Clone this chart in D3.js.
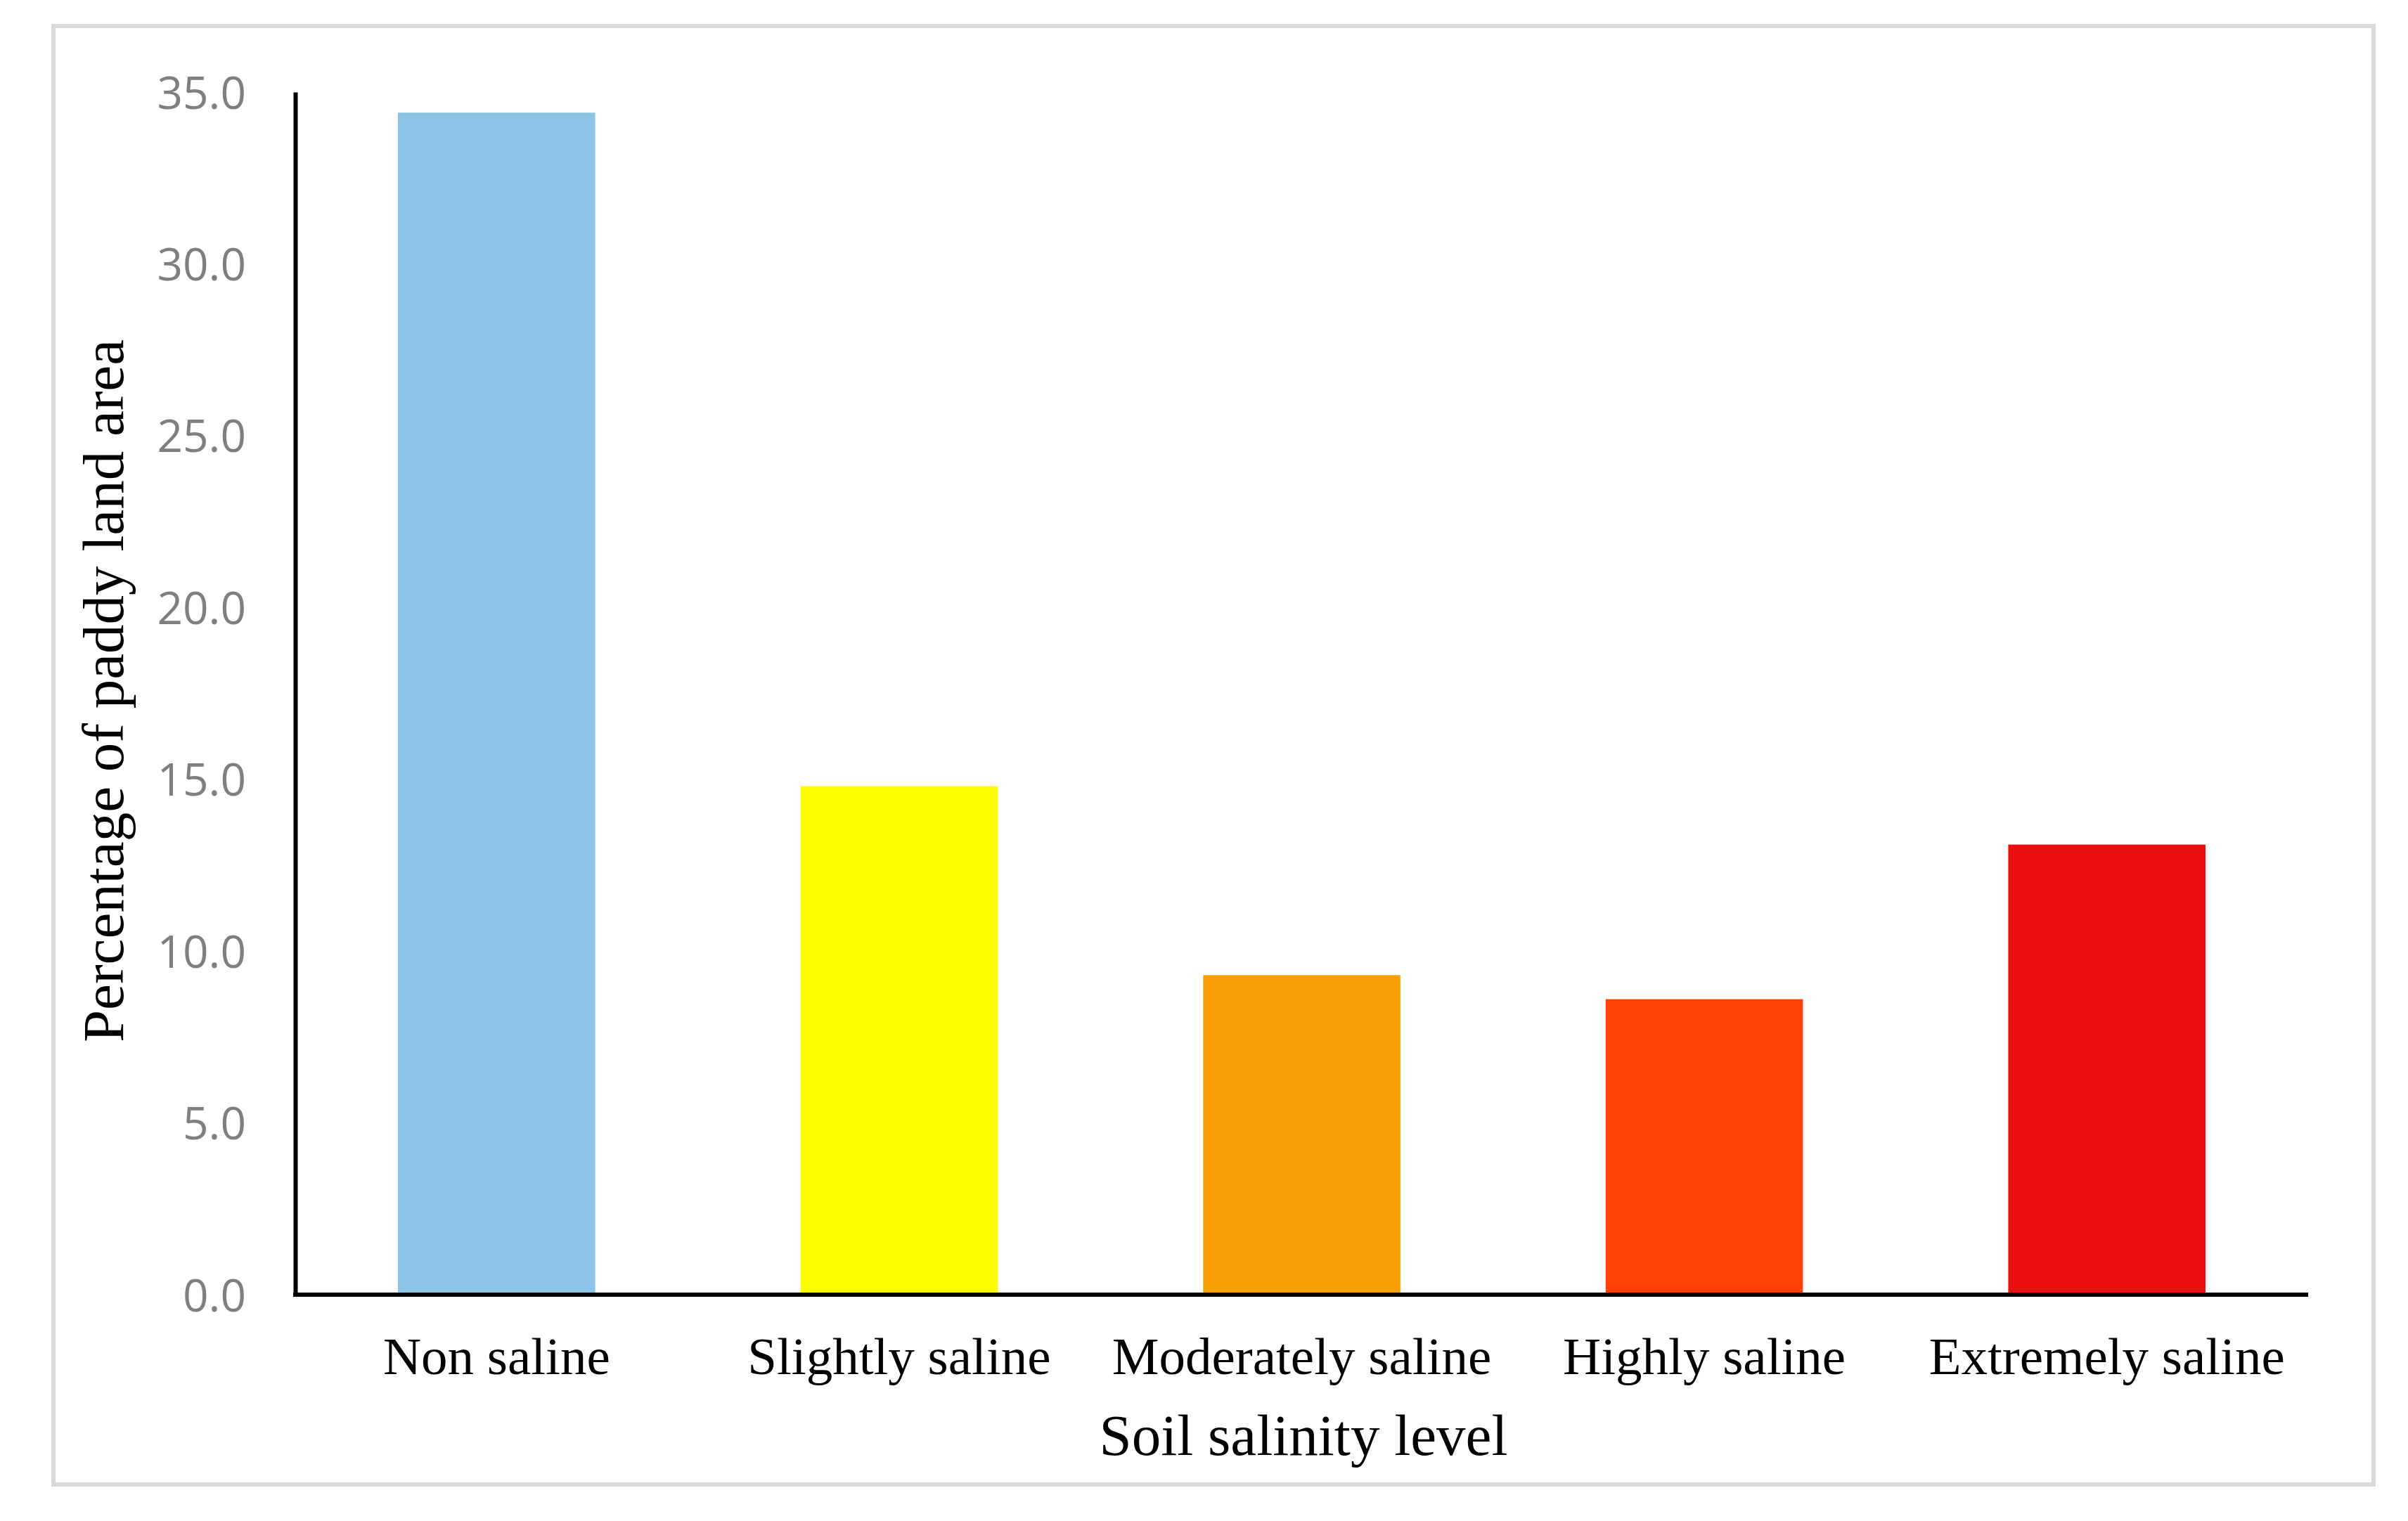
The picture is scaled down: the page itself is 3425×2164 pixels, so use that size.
<!DOCTYPE html>
<html>
<head>
<meta charset="utf-8">
<script src="https://cdn.jsdelivr.net/npm/d3@7"></script>
<style>
html,body{margin:0;padding:0;background:#fff;}
svg{display:block;}
</style>
</head>
<body>
<svg id="chart" width="3425" height="2164"></svg>
<script>
const categories = ["Non saline", "Slightly saline", "Moderately saline", "Highly saline", "Extremely saline"];
const values = [34.4, 14.8, 9.3, 8.6, 13.1];
const barColors = ["#8DC3E7", "#FFFF00", "#FAA005", "#FF4103", "#EB0E0E"];
const yTicks = [0, 5, 10, 15, 20, 25, 30, 35];
const xTitle = "Soil salinity level";
const yTitle = "Percentage of paddy land area";

const svg = d3.select("#chart");
const W = 3425, H = 2164;
const m = {left: 420, right: 3283, top: 131, bottom: 1842};

svg.append("rect").attr("x", 0).attr("y", 0).attr("width", W).attr("height", H).attr("fill", "#fff");
// outer frame
svg.append("rect").attr("x", 76).attr("y", 37).attr("width", 3376 - 76).attr("height", 2112 - 37)
  .attr("fill", "none").attr("stroke", "#d9d9d9").attr("stroke-width", 6);

const x = d3.scaleBand().domain(categories).range([m.left, m.right]).paddingInner(0.51).paddingOuter(0.255);
const y = d3.scaleLinear().domain([0, 35]).range([m.bottom, m.top]);

// bars
svg.append("g").selectAll("rect").data(categories).join("rect")
  .attr("x", d => x(d))
  .attr("width", x.bandwidth())
  .attr("y", (d, i) => y(values[i]))
  .attr("height", (d, i) => y(0) - y(values[i]))
  .attr("fill", (d, i) => barColors[i]);

// y axis
const yAxis = d3.axisLeft(y).tickValues(yTicks).tickFormat(d3.format(".1f")).tickSize(0).tickPadding(70);
const gy = svg.append("g").attr("transform", `translate(${m.left},0)`).call(yAxis);
gy.select(".domain").attr("stroke", "#000").attr("stroke-width", 6);
gy.selectAll("text").attr("font-family", "'Open Sans', sans-serif").attr("font-size", 64)
  .attr("fill", "#7f7f7f").attr("dy", "0.36em");

// x axis
const xAxis = d3.axisBottom(x).tickSize(0).tickPadding(60);
const gx = svg.append("g").attr("transform", `translate(0,${m.bottom})`).call(xAxis);
gx.select(".domain").attr("stroke", "#000").attr("stroke-width", 6)
  .attr("d", `M${m.left - 3},0H${m.right}`);
gx.selectAll("text").attr("font-family", "'Liberation Serif', 'Times New Roman', serif")
  .attr("font-size", 75).attr("fill", "#000").attr("dy", "0.71em");

// axis titles
svg.append("text").attr("x", 1854).attr("y", 2070).attr("text-anchor", "middle")
  .attr("font-family", "'Liberation Serif', 'Times New Roman', serif").attr("font-size", 83)
  .attr("fill", "#000").text(xTitle);

svg.append("text").attr("transform", "translate(175,983) rotate(-90)").attr("text-anchor", "middle")
  .attr("font-family", "'Liberation Serif', 'Times New Roman', serif").attr("font-size", 83)
  .attr("fill", "#000").text(yTitle);
</script>
</body>
</html>
